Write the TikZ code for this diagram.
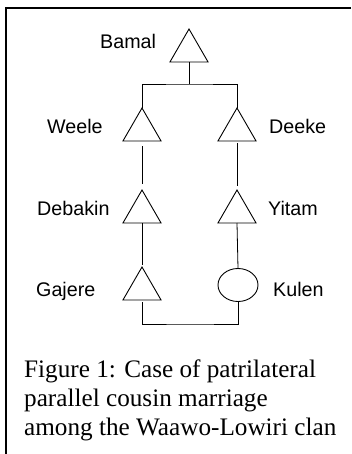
\documentclass[tikz,border=0pt]{standalone}
\usepackage{fontspec}
\setmainfont{Liberation Serif}
\setsansfont{Liberation Sans}
\usetikzlibrary{shapes.geometric}

\begin{document}
\begin{tikzpicture}[
      x=1pt, y=-1pt,
      % triangle = male, ellipse = female
      male/.style={regular polygon, regular polygon sides=3, draw=black, line width=0.9pt, minimum size=44pt, inner sep=0pt, outer sep=0pt},
      female/.style={ellipse, draw=black, line width=0.9pt, minimum width=40pt, minimum height=33pt, inner sep=0pt, outer sep=0pt},
      who/.style={anchor=base west, inner sep=0pt, font=\sffamily\fontsize{19.7}{22}\selectfont},
      capline/.style={anchor=base west, inner sep=0pt, font=\fontsize{25.2}{29}\selectfont},
      link/.style={line width=0.8pt}
    ]
      \useasboundingbox (0,0) rectangle (351,454);
      \draw[line width=1.5pt] (351,8) -- (6,8) -- (6,454);

      \node[male] (bamal) at (189,51) {};
      \node[male] (weele) at (142,130) {};
      \node[male] (deeke) at (237,130) {};
      \node[male] (debakin) at (142,212) {};
      \node[male] (yitam) at (237,212) {};
      \node[male] (gajere) at (142,289) {};
      \node[female] (kulen) at (238,285) {};

      \node[who] (bamal-l) at (100,49) {Bamal};
      \node[who] (weele-l) at (47,134) {Weele};
      \node[who] (deeke-l) at (269,134) {Deeke};
      \node[who] (debakin-l) at (37,215) {Debakin};
      \node[who] (yitam-l) at (268,215) {Yitam};
      \node[who] (gajere-l) at (36,296) {Gajere};
      \node[who] (kulen-l) at (273,296) {Kulen};

      \coordinate (sibs) at (189,84);
      \coordinate (wed) at (190,324);
      \draw[link] (bamal.south) -- (sibs);
      \draw[link] (weele.north) |- (sibs) -| (deeke.north);
      \draw[link, shorten <=5pt, shorten >=6pt] (weele.south) -- (debakin.north);
      \draw[link, shorten <=2pt, shorten >=4pt] (deeke.south) -- (yitam.north);
      \draw[link, shorten >=2pt] (debakin.south) -- (gajere.north);
      \draw[link] (yitam.south) -- (kulen.north);
      \draw[link, shorten <=2pt] (gajere.south) |- (wed) -| (kulen.south);

      % caption
      \node[capline] (cap1) at (24,377) {Figure 1: Case of patrilateral};
      \node[capline] (cap2) at (24,406) {parallel cousin marriage};
      \node[capline] (cap3) at (24,435) {among the Waawo-Lowiri clan};
    \end{tikzpicture}
\end{document}
